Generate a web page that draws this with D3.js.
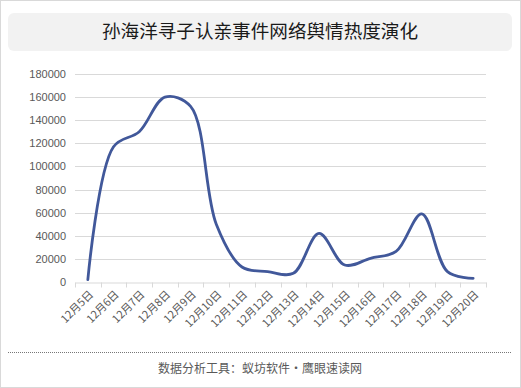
<!DOCTYPE html>
<html>
<head>
<meta charset="utf-8">
<script src="https://cdn.jsdelivr.net/npm/d3@7"></script>
<style>
  body { margin: 0; background: #fff; }
  svg { display: block; font-family: "Microsoft YaHei", "Noto Sans CJK SC", sans-serif; }
</style>
</head>
<body>
<svg id="chart" width="521" height="388"></svg>
<script>
// data
const dates = ["12月5日", "12月6日", "12月7日", "12月8日", "12月9日", "12月10日", "12月11日", "12月12日",
               "12月13日", "12月14日", "12月15日", "12月16日", "12月17日", "12月18日", "12月19日", "12月20日"];
const heat = [2000, 117000, 130000, 160000, 152000, 50000, 13000, 9000,
              7500, 42000, 14700, 20500, 26500, 59000, 9000, 3200];
const yTicks = [0, 20000, 40000, 60000, 80000, 100000, 120000, 140000, 160000, 180000];

const svg = d3.select("#chart");
const W = 521, H = 388;

// frame
svg.append("rect").attr("x", 0.5).attr("y", 0.5).attr("width", W - 1).attr("height", H - 1)
  .attr("fill", "#fff").attr("stroke", "#d9d9d9");

// title box
svg.append("rect").attr("x", 8).attr("y", 13).attr("width", 504).attr("height", 38).attr("rx", 6)
  .attr("fill", "#f2f2f2");
svg.append("text").attr("x", 260).attr("y", 33).attr("text-anchor", "middle").attr("dominant-baseline", "middle")
  .attr("font-size", 18.6).attr("fill", "#1a1a1a").text("孙海洋寻子认亲事件网络舆情热度演化");

const x = d3.scaleBand().domain(dates).range([75, 486]);
const y = d3.scaleLinear().domain([0, 180000]).range([282, 74]);

// gridlines
svg.append("g").selectAll("line").data(yTicks.slice(1)).join("line")
  .attr("x1", 75).attr("x2", 486)
  .attr("y1", d => Math.round(y(d)) + 0.5).attr("y2", d => Math.round(y(d)) + 0.5)
  .attr("stroke", "#d9d9d9");

// y axis labels
const yAxis = svg.append("g").attr("transform", "translate(75,0)")
  .call(d3.axisLeft(y).tickValues(yTicks).tickSize(0).tickPadding(9).tickFormat(d3.format("d")));
yAxis.select(".domain").remove();
yAxis.selectAll("text").attr("font-size", 11).attr("fill", "#595959")
  .attr("font-family", "'Liberation Sans', Arial, sans-serif");

// x axis
const xAxis = svg.append("g").attr("transform", `translate(0,${Math.round(y(0)) + 0.5})`)
  .call(d3.axisBottom(x).tickSize(0).tickFormat(""));
xAxis.select(".domain").attr("stroke", "#d9d9d9");
const edges = dates.map(d => x(d)).concat([x.range()[1]]);
xAxis.selectAll(".tk").data(edges).join("line").attr("class", "tk")
  .attr("x1", d => Math.round(d) + 0.5).attr("x2", d => Math.round(d) + 0.5)
  .attr("y1", 0).attr("y2", 5).attr("stroke", "#d9d9d9");

svg.append("g").selectAll("text").data(dates).join("text")
  .attr("transform", d => `translate(${x(d) + x.bandwidth() / 2 + 4},${y(0) + 11}) rotate(-45)`)
  .attr("text-anchor", "end").attr("dominant-baseline", "middle")
  .attr("font-size", 11).attr("fill", "#595959")
  .text(d => d);

// line (centripetal catmull-rom is close to excel's smoothing)
const line = d3.line()
  .x((d, i) => x(dates[i]) + x.bandwidth() / 2)
  .y(d => y(d))
  .curve(d3.curveCatmullRom.alpha(0.5));
svg.append("path").datum(heat).attr("d", line)
  .attr("fill", "none").attr("stroke", "#41589a").attr("stroke-width", 2.8)
  .attr("stroke-linecap", "round").attr("stroke-linejoin", "round");

// footer
svg.append("line").attr("x1", 8).attr("x2", 512).attr("y1", 352.5).attr("y2", 352.5)
  .attr("stroke", "#777").attr("stroke-dasharray", "1,1");
svg.append("text").attr("x", 260).attr("y", 370).attr("text-anchor", "middle").attr("dominant-baseline", "middle")
  .attr("font-size", 12).attr("fill", "#595959").text("数据分析工具：蚁坊软件・鹰眼速读网");
</script>
</body>
</html>
